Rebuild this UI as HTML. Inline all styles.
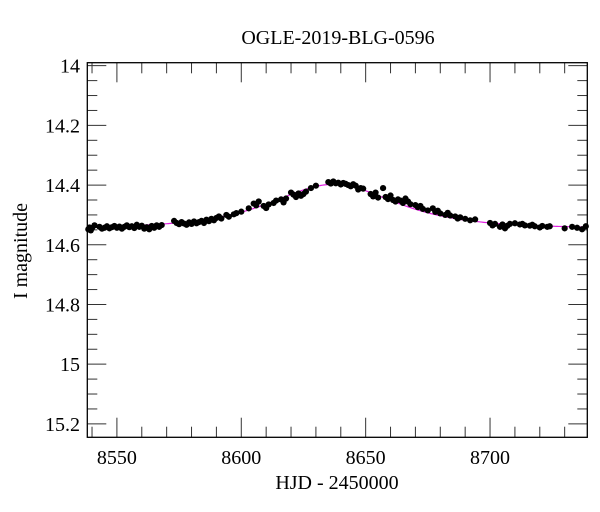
<!DOCTYPE html>
<html><head><meta charset="utf-8"><style>
html,body{margin:0;padding:0;background:#fff;}
svg{display:block;font-family:"Liberation Serif",serif;}
</style></head><body>
<svg id="chart" width="600" height="512" viewBox="0 0 600 512">
<text x="338" y="44" text-anchor="middle" font-size="20">OGLE-2019-BLG-0596</text>
<text transform="translate(27,251) rotate(-90)" text-anchor="middle" font-size="20">I magnitude</text>
<text x="337" y="489" text-anchor="middle" font-size="20">HJD - 2450000</text>
<g id="ticks"></g>
<g id="model"></g>
<g id="points"></g>
<rect x="87.3" y="62.7" width="500" height="374.6" fill="none" stroke="#000" stroke-width="1.3"/>
</svg>
<script>
const xTicks=[8550,8600,8650,8700];
const yTicks=[14,14.2,14.4,14.6,14.8,15,15.2];
const yTickLabels=["14","14.2","14.4","14.6","14.8","15","15.2"];
const days=[8538.5,8539,8539.5,8540,8541,8543,8544,8545,8546,8547,8548,8549,8550,8551,8552,8553,8554,8555,8556,8557,8558,8559,8560,8561,8562,8563,8564,8565,8566,8567,8568,
8573,8574,8575,8576,8577,8578,8579,8580,8581,8582,8583,8584,8585,8586,8587,8588,8589,8590,8591,8592,8594,8595,8597,8598,8600,
8603,8605,8606,8607,8609,8610,8611,8613,8614,8616,8617,8618,8620,8621,8622,8623,8624,8625,8626,8628,8630,
8635,8636,8637,8638,8639,8640,8641,8642,8643,8644,8645,8646,8647,8648,8649,
8652,8653,8654,8655,8657,8658,8659,8660,8661,8662,8663,8664,8665,8666,8667,8668,8670,8671,8672,8673,8675,8677,8678,8679,8680,8682,8683,8684,8686,8687,8688,8690,8692,8694,
8700,8701,8702,8704,8705,8706,8707,8708,8710,8712,8713,8714,8716,8717,8718,8720,8721,8723,8724,8730,8733,8735,8737,8738.5];
const mags=[14.548,14.542,14.552,14.544,14.535,14.540,14.546,14.543,14.538,14.545,14.541,14.537,14.543,14.539,14.546,14.540,14.535,14.541,14.538,14.544,14.533,14.540,14.536,14.546,14.541,14.548,14.537,14.543,14.535,14.540,14.534,
14.520,14.527,14.531,14.524,14.529,14.533,14.525,14.530,14.522,14.528,14.524,14.520,14.527,14.516,14.521,14.513,14.518,14.510,14.505,14.512,14.500,14.506,14.498,14.494,14.489,
14.478,14.462,14.468,14.455,14.470,14.477,14.465,14.460,14.452,14.448,14.458,14.445,14.425,14.432,14.440,14.428,14.436,14.430,14.422,14.410,14.402,
14.390,14.395,14.388,14.394,14.392,14.398,14.393,14.396,14.400,14.404,14.397,14.402,14.415,14.410,14.412,
14.430,14.438,14.425,14.442,14.410,14.440,14.447,14.435,14.450,14.455,14.448,14.452,14.460,14.445,14.455,14.464,14.467,14.474,14.470,14.480,14.485,14.478,14.490,14.486,14.495,14.500,14.493,14.502,14.505,14.512,14.508,14.513,14.518,14.515,
14.527,14.535,14.530,14.540,14.532,14.545,14.536,14.530,14.528,14.532,14.530,14.535,14.536,14.533,14.538,14.542,14.537,14.540,14.538,14.545,14.540,14.543,14.548,14.538];
const modelT0=8637, modelTE=24, modelU0=1.45, modelBase=14.545;

const X0=87.3,X1=587.3,Y0=62.7,Y1=437.3;
const xMin=8538.1,xMax=8739.1,yMin=13.99,yMax=15.245;
const sx=v=>X0+(v-xMin)/(xMax-xMin)*(X1-X0);
const sy=v=>Y0+(v-yMin)/(yMax-yMin)*(Y1-Y0);
const NS="http://www.w3.org/2000/svg";
function mk(tag,attrs,parent){const e=document.createElementNS(NS,tag);for(const k in attrs)e.setAttribute(k,attrs[k]);parent.appendChild(e);return e;}
const tg=document.getElementById('ticks');
for(let d=8540;d<=8739;d+=10){
  const x=sx(d);const major=d%50===0;const L=major?19.6:10.6;
  const t1=mk('line',{x1:x,x2:x,y1:Y1,y2:Y1-L,stroke:'#333','stroke-width':1},tg);
  
  
  const t2=mk('line',{x1:x,x2:x,y1:Y0,y2:Y0+L,stroke:'#333','stroke-width':1},tg);
  
  
}
xTicks.forEach(v=>{
  const t=mk('text',{x:sx(v),y:464,'text-anchor':'middle','font-size':20},tg);
  t.textContent=String(v);
  
  
});
for(let i=0;i<=24;i++){
  const v=14+i*0.05;const y=sy(v);const major=i%4===0;const L=major?19:10;
  const t1=mk('line',{x1:X0,x2:X0+L,y1:y,y2:y,stroke:'#333','stroke-width':1},tg);
  
  
  const t2=mk('line',{x1:X1,x2:X1-L,y1:y,y2:y,stroke:'#333','stroke-width':1},tg);
  
  
}
yTicks.forEach((v,i)=>{
  const t=mk('text',{x:80,y:sy(v)+7,'text-anchor':'end','font-size':20},tg);
  t.textContent=yTickLabels[i];
  
  
});
function modelMag(t){const tau=(t-modelT0)/modelTE;const u=Math.sqrt(modelU0*modelU0+tau*tau);const A=(u*u+2)/(u*Math.sqrt(u*u+4));return modelBase-2.5*Math.log10(A);}
let dstr='';
for(let t=xMin;t<=xMax;t+=0.5){dstr+=(dstr?'L':'M')+sx(t).toFixed(2)+','+sy(modelMag(t)).toFixed(2);}
const mp=mk('path',{d:dstr,fill:'none',stroke:'#e020e0','stroke-width':1.2},document.getElementById('model'));


const pg=document.getElementById('points');
days.forEach((d,i)=>{
  const c=mk('circle',{cx:sx(d),cy:sy(mags[i]),r:3.1,fill:'#000'},pg);
  
  
});
</script>
</body></html>
